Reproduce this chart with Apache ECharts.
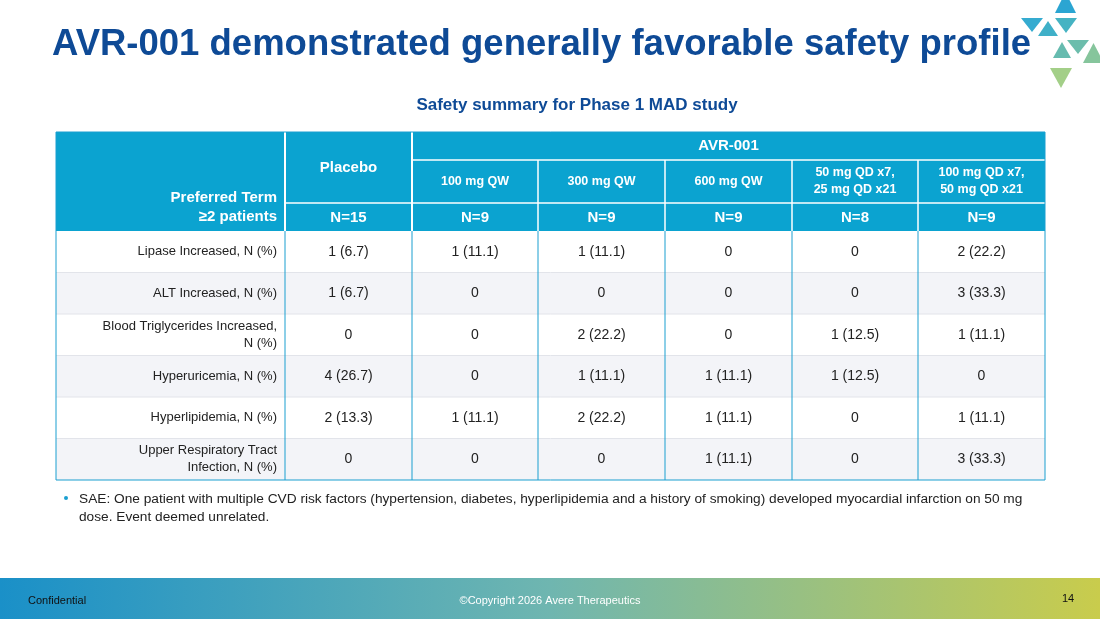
<!DOCTYPE html>
<html><head><meta charset="utf-8">
<script src="https://cdn.jsdelivr.net/npm/echarts@6/dist/echarts.min.js"></script>
<style>html,body{margin:0;padding:0;background:#fff}#c{width:1100px;height:619px}</style>
</head><body><div id="c"></div>
<script>
var groups = ['Placebo', '100 mg QW', '300 mg QW', '600 mg QW', '50 mg QD x7,\n25 mg QD x21', '100 mg QD x7,\n50 mg QD x21'];
var counts = ['N=15', 'N=9', 'N=9', 'N=9', 'N=8', 'N=9'];
var terms = ['Lipase Increased, N (%)', 'ALT Increased, N (%)', 'Blood Triglycerides Increased,\nN (%)',
    'Hyperuricemia, N (%)', 'Hyperlipidemia, N (%)', 'Upper Respiratory Tract\nInfection, N (%)'];
var cells = [
    ['1 (6.7)', '1 (11.1)', '1 (11.1)', '0', '0', '2 (22.2)'],
    ['1 (6.7)', '0', '0', '0', '0', '3 (33.3)'],
    ['0', '0', '2 (22.2)', '0', '1 (12.5)', '1 (11.1)'],
    ['4 (26.7)', '0', '1 (11.1)', '1 (11.1)', '1 (12.5)', '0'],
    ['2 (13.3)', '1 (11.1)', '2 (22.2)', '1 (11.1)', '0', '1 (11.1)'],
    ['0', '0', '0', '1 (11.1)', '0', '3 (33.3)']
];

(function () {
var colX = [56, 285, 412, 538, 665, 792, 918, 1045];
var tTop = 132, r1 = 160, r2 = 203, r3 = 231, rowH = 41.5;
var blue = '#0ba3d0', line = '#1a9fd0', font = '"Liberation Sans", Arial, sans-serif';
var g = [];

function rect(x, y, w, h, fill, stroke) {
    var st = { fill: fill || 'none', lineWidth: 1 };
    if (stroke) st.stroke = stroke;
    g.push({ type: 'rect', shape: { x: x, y: y, width: w, height: h }, style: st });
}
function text(x, y, s, opt) {
    var st = { text: s, font: '13px ' + font, fill: '#222', align: 'center', verticalAlign: 'middle', lineHeight: 17 };
    for (var k in (opt || {})) st[k] = opt[k];
    g.push({ type: 'text', x: x, y: y, style: st });
}
function ln(x1, y1, x2, y2, c, w) {
    g.push({ type: 'line', shape: { x1: x1, y1: y1, x2: x2, y2: y2 }, style: { stroke: c, lineWidth: w || 1 } });
}

rect(colX[0], tTop, colX[7] - colX[0], r3 - tTop, blue);
ln(colX[1], tTop, colX[1], r3, '#fff', 2);
ln(colX[2], tTop, colX[2], r3, '#fff', 2);
ln(colX[2], r1, colX[7], r1, '#fff', 1.5);
ln(colX[1], r2, colX[7], r2, '#fff', 1.5);
for (var i = 3; i < 7; i++) ln(colX[i], r1, colX[i], r3, '#fff', 1.5);
text((colX[2] + colX[7]) / 2, (tTop + r1) / 2, 'AVR-001', { font: 'bold 15px ' + font, fill: '#fff' });
text((colX[1] + colX[2]) / 2, 168, groups[0], { font: 'bold 15px ' + font, fill: '#fff' });
for (i = 1; i < 6; i++) {
    text((colX[i + 1] + colX[i + 2]) / 2, (r1 + r2) / 2, groups[i], { font: 'bold 12.5px ' + font, fill: '#fff', lineHeight: 17 });
}
for (i = 0; i < 6; i++) {
    text((colX[i + 1] + colX[i + 2]) / 2, (r2 + r3) / 2 + 1, counts[i], { font: 'bold 15px ' + font, fill: '#fff' });
}
text(277, 207, 'Preferred Term\n≥2 patients', { font: 'bold 15px ' + font, fill: '#fff', align: 'right', lineHeight: 19 });

for (var r = 0; r < terms.length; r++) {
    var y = r3 + r * rowH;
    rect(colX[0], y, colX[7] - colX[0], rowH, r % 2 ? '#f3f4f8' : '#fff');
    if (r > 0) ln(colX[0], y, colX[7], y, '#e2e4ea', 1);
    text(277, y + rowH / 2, terms[r], { align: 'right', lineHeight: 17 });
    for (var c = 0; c < 6; c++) text((colX[c + 1] + colX[c + 2]) / 2, y + rowH / 2, cells[r][c], { font: '14px ' + font });
}
var bot = r3 + terms.length * rowH;
for (i = 1; i < 7; i++) ln(colX[i], r3, colX[i], bot, line, 1);
rect(colX[0], tTop, colX[7] - colX[0], bot - tTop, null, line);

text(52, 45, 'AVR-001 demonstrated generally favorable safety profile', { font: 'bold 36.5px ' + font, fill: '#0e4a96', align: 'left' });
text(577, 105, 'Safety summary for Phase 1 MAD study', { font: 'bold 17px ' + font, fill: '#0e4a96' });
g.push({ type: 'circle', shape: { cx: 66, cy: 498, r: 2 }, style: { fill: '#1a9fd0' } });
text(79, 508, 'SAE: One patient with multiple CVD risk factors (hypertension, diabetes, hyperlipidemia and a history of smoking) developed myocardial infarction on 50 mg\ndose. Event deemed unrelated.',
    { align: 'left', font: '13.7px ' + font, lineHeight: 18 });

g.push({ type: 'rect', shape: { x: 0, y: 578, width: 1100, height: 41 },
    style: { fill: new echarts.graphic.LinearGradient(0, 0, 1, 0, [
        { offset: 0, color: '#1a90c8' }, { offset: 0.5, color: '#6fb6b0' }, { offset: 1, color: '#c9cc4c' }]) } });
text(28, 601, 'Confidential', { align: 'left', font: '11px ' + font, fill: '#111' });
text(550, 601, '©Copyright 2026 Avere Therapeutics', { font: '11px ' + font, fill: '#fff' });
text(1068, 599, '14', { font: '11px ' + font, fill: '#111' });

// logo: [left, top, right, bottom, up?, colour]
var tris = [
    [1055, -8, 1076, 13, 1, '#2ba5d2'],
    [1021, 18, 1043, 32, 0, '#35abd0'],
    [1038, 21, 1058, 36, 1, '#3fb0c8'],
    [1055, 18, 1077, 33, 0, '#46b3c3'],
    [1067, 40, 1089, 54, 0, '#6cbdac'],
    [1053, 42, 1071, 58, 1, '#66bbaf'],
    [1083, 43, 1104, 63, 1, '#86c59c'],
    [1050, 68, 1072, 88, 0, '#a3cf88']
];
tris.forEach(function (t) {
    var pts = t[4] ? [[(t[0] + t[2]) / 2, t[1]], [t[0], t[3]], [t[2], t[3]]]
                   : [[t[0], t[1]], [t[2], t[1]], [(t[0] + t[2]) / 2, t[3]]];
    g.push({ type: 'polygon', shape: { points: pts }, style: { fill: t[5] } });
});

var chart = echarts.init(document.getElementById('c'));
chart.setOption({ animation: false, graphic: { elements: g } });
})();
</script></body></html>
